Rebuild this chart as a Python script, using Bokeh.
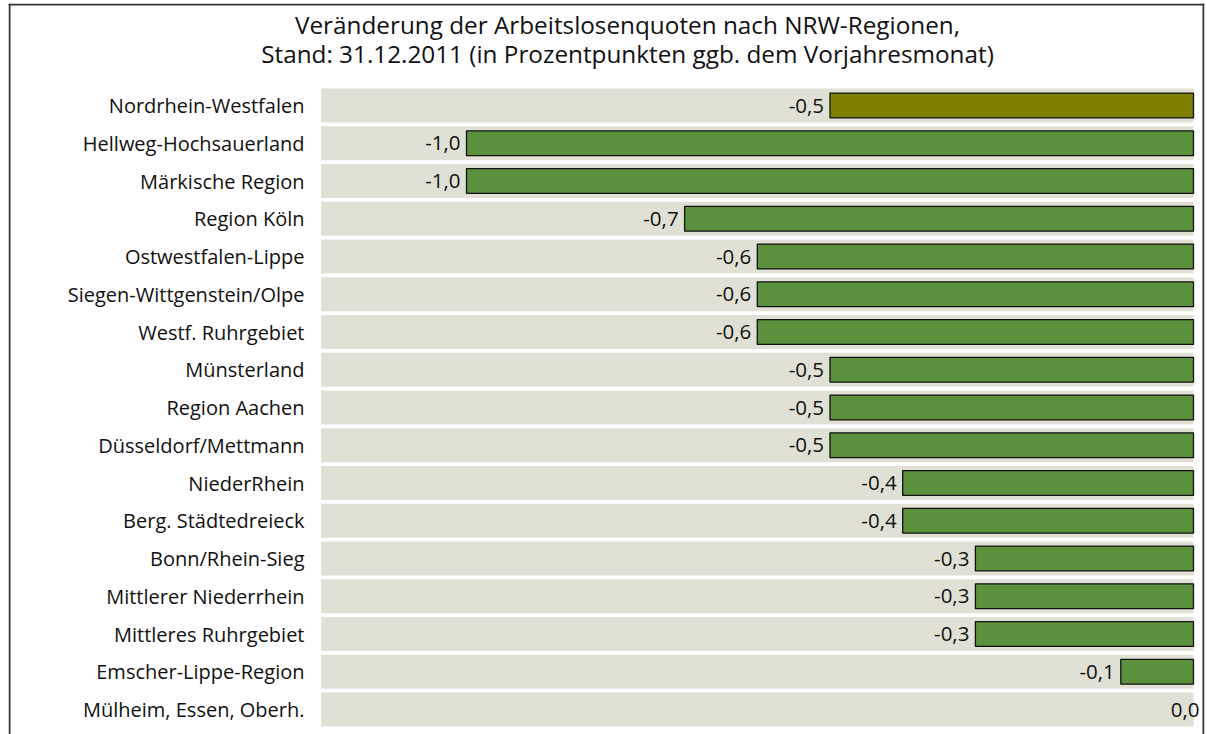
from bokeh.plotting import figure
from bokeh.models import Range1d, ColumnDataSource, Span
from bokeh.core.properties import value
from bokeh.embed import file_html
from bokeh.resources import INLINE

title_lines = [
    "Veränderung der Arbeitslosenquoten nach NRW-Regionen,",
    "Stand: 31.12.2011 (in Prozentpunkten ggb. dem Vorjahresmonat)",
]
regions = [
    "Nordrhein-Westfalen",
    "Hellweg-Hochsauerland",
    "Märkische Region",
    "Region Köln",
    "Ostwestfalen-Lippe",
    "Siegen-Wittgenstein/Olpe",
    "Westf. Ruhrgebiet",
    "Münsterland",
    "Region Aachen",
    "Düsseldorf/Mettmann",
    "NiederRhein",
    "Berg. Städtedreieck",
    "Bonn/Rhein-Sieg",
    "Mittlerer Niederrhein",
    "Mittleres Ruhrgebiet",
    "Emscher-Lippe-Region",
    "Mülheim, Essen, Oberh.",
]
changes = [-0.5, -1.0, -1.0, -0.7, -0.6, -0.6, -0.6, -0.5, -0.5, -0.5,
           -0.4, -0.4, -0.3, -0.3, -0.3, -0.1, 0.0]

W, H = 1207, 734
FL, FT, FR = 8, 3, 1204          # frame (border) edges in page pixels
FONT = "Open Sans"

# pixel geometry -> data ranges
px_zero, px_unit = 1193.0, 727.0
row0, pitch = 105.0, 37.75

def pxx(px):
    return (px - px_zero) / px_unit

def py(px):
    return (px - row0) / pitch

rows = list(range(len(regions)))
colors = ["#808000"] + ["#5B913D"] * (len(regions) - 1)
labels = [f"{v:.1f}".replace(".", ",") for v in changes]
offsets = [-6 if v < 0 else 6 for v in changes]
edge_alpha = [1.0 if v != 0 else 0.0 for v in changes]

src = ColumnDataSource(dict(
    row=rows, region=regions, change=changes, color=colors,
    label=labels, off=offsets, zero=[0.0] * len(rows), ea=edge_alpha,
    band_left=[-1.2] * len(rows), lab_x=[pxx(304)] * len(rows),
))

p = figure(width=W, height=H, output_backend="svg", toolbar_location=None,
           x_range=Range1d(pxx(FL), pxx(FR)), y_range=Range1d(py(H), py(FT)),
           x_axis_location=None, y_axis_location=None,
           min_border_left=FL, min_border_top=FT, min_border_right=W - FR,
           min_border_bottom=0)
p.grid.visible = False
p.outline_line_color = None
p.background_fill_color = "white"
p.border_fill_color = "white"

# border (left, right, top; bottom runs off the page)
for loc, dim in ((pxx(FL + 1), "height"), (pxx(FR - 1), "height"), (py(FT + 1), "width")):
    p.add_layout(Span(location=loc, dimension=dim, line_color="#333333", line_width=2))

# background bands
p.hbar(y="row", left="band_left", right="zero", height=0.9, source=src,
       fill_color="#E0E1D4", line_color=None)
# bars
p.hbar(y="row", left="change", right="zero", height=0.66, source=src,
       fill_color="color", line_color="#111111", line_alpha="ea", line_width=1.3)
# value labels
p.text(x="change", y="row", text="label", x_offset="off", source=src,
       text_align="right", text_baseline="middle", text_font=value(FONT),
       text_font_size="20.5px", text_color="#111111")
# category labels
p.text(x="lab_x", y="row", text="region", source=src,
       text_align="right", text_baseline="middle", text_font=value(FONT),
       text_font_size="20px", text_color="#111111")
# title
p.text(x=[pxx(627)] * 2, y=[py(24), py(53)], text=title_lines,
       text_align="center", text_baseline="middle", text_font=value(FONT),
       text_font_size="24.3px", text_color="#111111")

open("out.html", "w").write(file_html(p, INLINE))
